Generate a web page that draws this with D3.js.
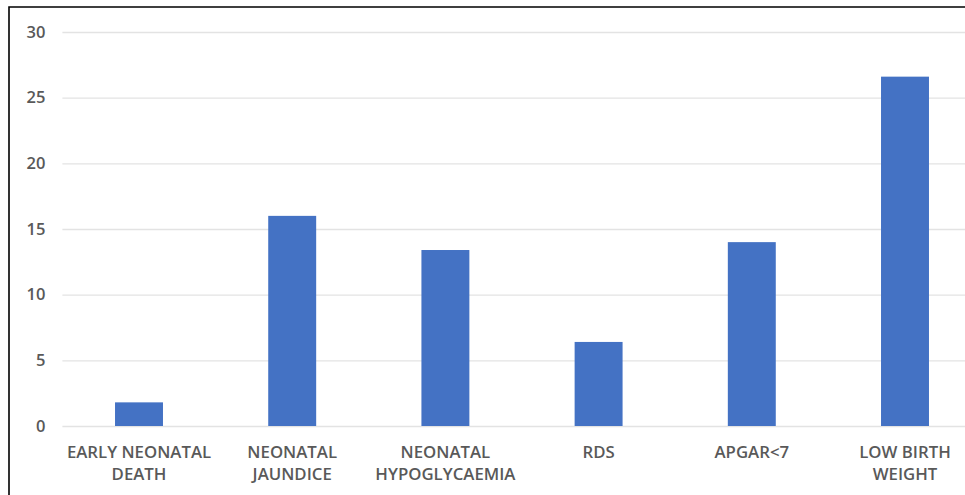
<!DOCTYPE html>
<html>
<head>
<meta charset="utf-8">
<script src="https://cdn.jsdelivr.net/npm/d3@7"></script>
<style>
  html, body { margin: 0; padding: 0; background: #fff; }
  svg { display: block; }
  .tick text { font-family: "Open Sans", sans-serif; font-weight: 600; fill: #595959; }
</style>
</head>
<body>
<svg id="chart" width="965" height="495"></svg>
<script>
// Neonatal outcomes (%)
const categories = [
  ["EARLY NEONATAL", "DEATH"],
  ["NEONATAL", "JAUNDICE"],
  ["NEONATAL", "HYPOGLYCAEMIA"],
  ["RDS"],
  ["APGAR<7"],
  ["LOW BIRTH", "WEIGHT"]
];
const values = [1.8, 16.0, 13.4, 6.4, 14.0, 26.6];
const yTicks = [0, 5, 10, 15, 20, 25, 30];

const svg = d3.select("#chart");
const W = 965, H = 495;
const plot = { left: 62.4, right: 981.6, top: 32, bottom: 426 };

const keys = categories.map(c => c.join(" "));

const x = d3.scaleBand()
  .domain(keys)
  .range([plot.left, plot.right])
  .paddingInner(0.687)
  .paddingOuter(0.3435);

const y = d3.scaleLinear()
  .domain([0, 30])
  .range([plot.bottom, plot.top]);

// frame
svg.append("rect").attr("x", 0).attr("y", 0).attr("width", W).attr("height", H).attr("fill", "#fff");
svg.append("path")
  .attr("d", `M9,${H} L9,7 L${W},7`)
  .attr("fill", "none")
  .attr("stroke", "#000")
  .attr("stroke-width", 1.6);

// y axis with gridlines
const yAxis = svg.append("g")
  .attr("transform", `translate(${plot.left},0)`)
  .call(d3.axisLeft(y).tickValues(yTicks).tickSize(-(plot.right - plot.left)).tickPadding(17));
yAxis.select(".domain").remove();
yAxis.selectAll(".tick line").attr("stroke", "#e3e3e3").attr("stroke-width", 1.3);
yAxis.selectAll(".tick text").attr("font-size", 16.5);

// bars
svg.append("g").selectAll("rect")
  .data(values)
  .join("rect")
  .attr("x", (d, i) => x(keys[i]))
  .attr("width", x.bandwidth())
  .attr("y", d => y(d))
  .attr("height", d => y(0) - y(d))
  .attr("fill", "#4472c4");

// x axis category labels (multi-line)
const xAxis = svg.append("g")
  .attr("transform", `translate(0,${plot.bottom})`)
  .call(d3.axisBottom(x).tickSize(0).tickFormat(() => ""));
xAxis.select(".domain").remove();
xAxis.selectAll(".tick").each(function(d, i) {
  const t = d3.select(this).select("text")
    .attr("font-size", 16.8)
    .attr("y", 0)
    .attr("dy", null);
  categories[i].forEach((line, j) => {
    t.append("tspan")
      .attr("x", 0)
      .attr("y", 32 + j * 22)
      .text(line);
  });
});
</script>
</body>
</html>
